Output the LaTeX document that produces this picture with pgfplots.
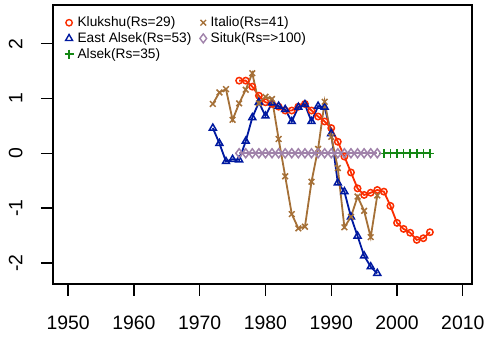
\documentclass[border=0pt]{standalone}
\usepackage{pgfplots}
\pgfplotsset{compat=1.18}
\usepackage{fontspec}
\setmainfont{Liberation Sans}
\definecolor{klred}{RGB}{250,45,0}
\definecolor{eablue}{RGB}{0,25,160}
\definecolor{agreen}{RGB}{20,135,20}
\definecolor{ibrown}{RGB}{165,112,55}
\definecolor{spurple}{RGB}{160,130,170}
\begin{document}
\begin{tikzpicture}
\begin{axis}[name=ax, scale only axis, width=419pt, height=279pt,
  xmin=1947.7, xmax=2011.4, ymin=-2.385, ymax=2.705,
  axis line style={line width=1.3pt},
  xtick={1950,1960,1970,1980,1990,2000,2010},
  xticklabels={1950,1960,1970,1980,1990,2000,2010},
  ytick={-2,-1,0,1,2}, yticklabels={-2,-1,0,1,2},
  tick align=outside, tick pos=left, major tick length=12pt,
  tick style={line width=1.3pt, black},
  ticklabel style={font=\fontsize{19.4}{22}\selectfont},
  xticklabel shift=16.5pt, yticklabel shift=15pt,
  yticklabel style={rotate=90, anchor=south},
  legend columns=2,
  legend style={draw=none, fill=none, at={(axis description cs:0.02,0.972)}, anchor=north west,
    font=\fontsize{13.7}{15}\selectfont, row sep=0.3pt,
    /tikz/every odd column/.append style={column sep=2pt},
    /tikz/every even column/.append style={column sep=6.5pt}},
  legend cell align=left,
  legend image code/.code={\draw[#1] plot coordinates {(0pt,0pt)};},
]
\addlegendimage{only marks, mark=o, klred, mark size=3.2pt, line width=1.4pt}
\addlegendentry{Klukshu(Rs=29)}
\addlegendimage{only marks, mark=x, ibrown, mark size=4pt, line width=1.4pt}
\addlegendentry{Italio(Rs=41)}
\addlegendimage{only marks, mark=triangle, eablue, mark size=4pt, line width=1.4pt}
\addlegendentry{East Alsek(Rs=53)}
\addlegendimage{only marks, mark=diamond, spurple, mark size=4.5pt, line width=1.4pt}
\addlegendentry{Situk(Rs=>100)}
\addlegendimage{only marks, mark=+, agreen, mark size=4.5pt, line width=1.4pt}
\addlegendentry{Alsek(Rs=35)}

\addplot[forget plot, klred, line width=1.8pt, mark=o, mark size=3.2pt, mark options={line width=1.5pt}] coordinates {
(1976,1.325)(1977,1.325)(1978,1.215)(1979,1.05)(1980,0.93)(1981,0.90)(1982,0.85)(1983,0.78)(1984,0.78)(1985,0.85)(1986,0.90)(1987,0.78)(1988,0.67)(1989,0.58)(1990,0.46)(1991,0.21)(1992,-0.06)(1993,-0.35)(1994,-0.64)(1995,-0.76)(1996,-0.72)(1997,-0.67)(1998,-0.70)(1999,-0.96)(2000,-1.27)(2001,-1.38)(2002,-1.45)(2003,-1.58)(2004,-1.55)(2005,-1.44)};
\addplot[forget plot, eablue, line width=1.8pt, mark=triangle, mark size=4pt, mark options={line width=1.5pt}] coordinates {
(1972,0.46)(1973,0.18)(1974,-0.15)(1975,-0.11)(1976,-0.12)(1977,0.22)(1978,0.65)(1979,0.93)(1980,0.68)(1981,0.92)(1982,0.86)(1983,0.80)(1984,0.58)(1985,0.84)(1986,0.89)(1987,0.58)(1988,0.86)(1989,0.84)(1990,0.36)(1991,-0.54)(1992,-0.70)(1993,-1.16)(1994,-1.51)(1995,-1.87)(1996,-2.07)(1997,-2.19)};
\addplot[forget plot, agreen, line width=1.8pt, mark=+, mark size=4.5pt, mark options={line width=1.5pt}] coordinates {
(1998,0)(1999,0)(2000,0)(2001,0)(2002,0)(2003,0)(2004,0)(2005,0)};
\addplot[forget plot, ibrown, line width=1.8pt, mark=x, mark size=4pt, mark options={line width=1.5pt}] coordinates {
(1972,0.90)(1973,1.11)(1974,1.17)(1975,0.61)(1976,0.91)(1977,1.16)(1978,1.46)(1979,0.91)(1980,1.03)(1981,0.99)(1982,0.26)(1983,-0.42)(1984,-1.11)(1985,-1.37)(1986,-1.34)(1987,-0.52)(1988,0.08)(1989,0.94)(1990,0.30)(1991,-0.27)(1992,-1.35)(1993,-1.16)(1994,-0.79)(1995,-1.05)(1996,-1.53)(1997,-0.77)};
\addplot[forget plot, spurple, line width=1.8pt, mark=diamond, mark size=4.5pt, mark options={line width=1.5pt}] coordinates {
(1976,0)(1977,0)(1978,0)(1979,0)(1980,0)(1981,0)(1982,0)(1983,0)(1984,0)(1985,0)(1986,0)(1987,0)(1988,0)(1989,0)(1990,0)(1991,0)(1992,0)(1993,0)(1994,0)(1995,0)(1996,0)(1997,0)};
\end{axis}
\pgfresetboundingbox
\path[use as bounding box] ([shift={(-53pt,-53pt)}]ax.south west) rectangle ([shift={(16pt,5pt)}]ax.north east);
\end{tikzpicture}
\end{document}
